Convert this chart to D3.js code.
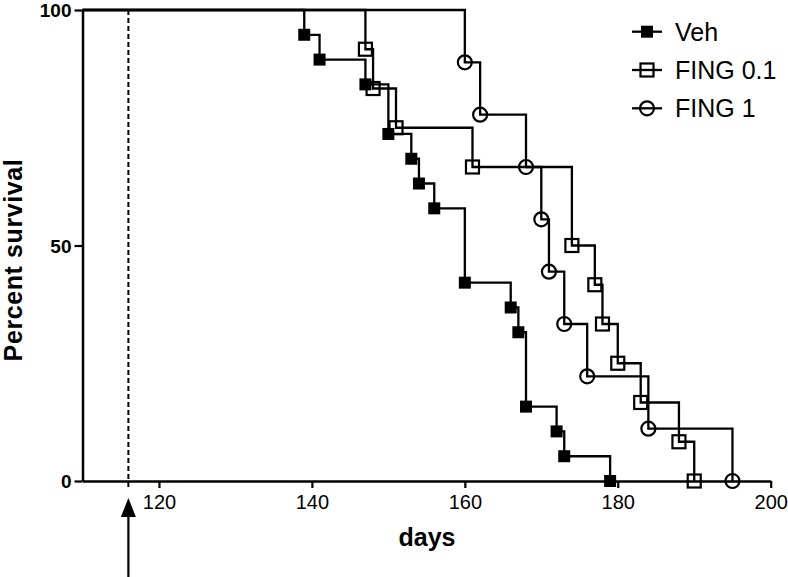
<!DOCTYPE html>
<html>
<head>
<meta charset="utf-8">
<script src="https://cdn.jsdelivr.net/npm/d3@7"></script>
<style>
  html, body { margin: 0; padding: 0; background: #fff; }
  svg { display: block; }
</style>
</head>
<body>
<svg id="chart" width="788" height="577"></svg>
<script>
// ---- Data ----
const seriesNames = ["Veh", "FING 0.1", "FING 1"];
const vehDays = [139, 141, 147, 150, 153, 154, 156, 160, 166, 167, 168, 172, 173, 179];
const vehSurv = [94.74, 89.47, 84.21, 73.68, 68.42, 63.16, 57.89, 42.11, 36.84, 31.58, 15.79, 10.53, 5.26, 0];
const fing01Days = [147, 148, 151, 161, 174, 177, 178, 180, 183, 188, 190];
const fing01Surv = [91.67, 83.33, 75, 66.67, 50, 41.67, 33.33, 25, 16.67, 8.33, 0];
const fing1Days = [160, 162, 168, 170, 171, 173, 176, 184, 195];
const fing1Surv = [88.89, 77.78, 66.67, 55.56, 44.44, 33.33, 22.22, 11.11, 0];
const xTicks = [120, 140, 160, 180, 200];
const yTicks = [0, 50, 100];
const treatmentDay = 116;

// ---- Layout ----
const svg = d3.select("#chart");
const x = d3.scaleLinear().domain([110, 200]).range([82.5, 770.7]);
const y = d3.scaleLinear().domain([0, 100]).range([481, 10]);
const FONT = "'Liberation Sans', Arial, Helvetica, sans-serif";
const LW = 2.3;

// Dashed treatment line
svg.append("line")
  .attr("x1", x(treatmentDay)).attr("x2", x(treatmentDay))
  .attr("y1", y(100)).attr("y2", y(0) + 6)
  .attr("stroke", "#000").attr("stroke-width", 2)
  .attr("stroke-dasharray", "5,3");

// Axes
const xAxis = svg.append("g")
  .attr("transform", `translate(0,${y(0)})`)
  .call(d3.axisBottom(x).tickValues(xTicks).tickSize(7).tickSizeOuter(0).tickPadding(6));
const yAxis = svg.append("g")
  .attr("transform", `translate(${x(110)},0)`)
  .call(d3.axisLeft(y).tickValues(yTicks).tickSize(8).tickSizeOuter(0).tickPadding(3));

[xAxis, yAxis].forEach(g => {
  g.select(".domain").attr("stroke", "#000").attr("stroke-width", 2.5);
  g.selectAll(".tick line").attr("stroke", "#000").attr("stroke-width", 2.2);
  g.selectAll(".tick text").attr("fill", "#000").attr("font-family", FONT);
});
xAxis.selectAll(".tick text").attr("font-size", 20).attr("dy", "0.75em");
yAxis.selectAll(".tick text").attr("font-size", 19).attr("font-weight", "bold").attr("dy", "0.35em");

// Axis titles
svg.append("text")
  .attr("x", 427).attr("y", 546)
  .attr("text-anchor", "middle")
  .attr("font-family", FONT).attr("font-weight", "bold").attr("font-size", 25)
  .text("days");
svg.append("text")
  .attr("transform", `translate(22,${260}) rotate(-90)`)
  .attr("text-anchor", "middle")
  .attr("font-family", FONT).attr("font-weight", "bold").attr("font-size", 25)
  .attr("letter-spacing", 0.6)
  .text("Percent survival");

// Arrow
const ax = x(treatmentDay);
svg.append("line")
  .attr("x1", ax).attr("x2", ax).attr("y1", 512).attr("y2", 577)
  .attr("stroke", "#000").attr("stroke-width", 2.2);
svg.append("path")
  .attr("d", `M${ax},498 L${ax - 7.5},517 L${ax + 7.5},517 Z`)
  .attr("fill", "#000");

// Series
const series = [
  { name: seriesNames[0], days: vehDays, surv: vehSurv, sym: "filledSquare" },
  { name: seriesNames[1], days: fing01Days, surv: fing01Surv, sym: "openSquare" },
  { name: seriesNames[2], days: fing1Days, surv: fing1Surv, sym: "openCircle" }
];

const line = d3.line().x(d => x(d[0])).y(d => y(d[1])).curve(d3.curveStepAfter);

function drawSymbol(g, sym, cx, cy) {
  if (sym === "filledSquare") {
    g.append("rect").attr("x", cx - 6).attr("y", cy - 6).attr("width", 12).attr("height", 12)
      .attr("fill", "#000");
  } else if (sym === "openSquare") {
    g.append("rect").attr("x", cx - 6.5).attr("y", cy - 6.5).attr("width", 13).attr("height", 13)
      .attr("fill", "none").attr("stroke", "#000").attr("stroke-width", 2.2);
  } else {
    g.append("circle").attr("cx", cx).attr("cy", cy).attr("r", 7)
      .attr("fill", "none").attr("stroke", "#000").attr("stroke-width", 2.2);
  }
}

series.forEach(s => {
  const pts = [[110, 100]].concat(s.days.map((d, i) => [d, s.surv[i]]));
  const g = svg.append("g");
  g.append("path").attr("d", line(pts))
    .attr("fill", "none").attr("stroke", "#000").attr("stroke-width", LW);
  s.days.forEach((d, i) => drawSymbol(g, s.sym, x(d), y(s.surv[i])));
});

// Legend
const legendY = [31.7, 70, 108.3];
series.forEach((s, i) => {
  const g = svg.append("g");
  const cy = legendY[i];
  g.append("line").attr("x1", 632).attr("x2", 662).attr("y1", cy).attr("y2", cy)
    .attr("stroke", "#000").attr("stroke-width", LW);
  drawSymbol(g, s.sym, 647, cy);
  g.append("text").attr("x", 675).attr("y", cy).attr("dy", "0.36em")
    .attr("font-family", FONT).attr("font-size", 25).text(s.name);
});
</script>
</body>
</html>
